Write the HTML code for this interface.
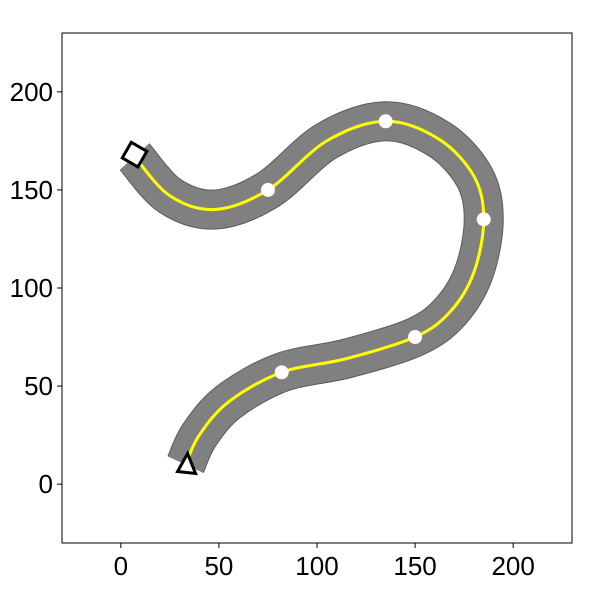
<!DOCTYPE html>
<html><head><meta charset="utf-8"><style>
body{margin:0;background:#fff;width:600px;height:600px;overflow:hidden}
text{font-family:"Liberation Sans",sans-serif;font-size:26px;fill:#000}
</style></head><body>
<svg id="c" width="600" height="600"></svg>
<script>
const pathX=[7,25,48,75,105,135,162,180,185,180,168,150,115,82,55,40,33];
const pathY=[167,147,140,150,175,185,176,157,135,108,88,75,64,57,42,25,10];
const waypointX=[75,135,185,150,82];
const waypointY=[150,185,135,75,57];
const startPt=[7,168];
const endPt=[33,10];
const xTicks=[0,50,100,150,200];
const yTicks=[0,50,100,150,200];
const L=62,R=572,T=33,B=543,xmin=-30,xmax=230,ymin=-30,ymax=230;
const sx=v=>L+(v-xmin)/(xmax-xmin)*(R-L);
const sy=v=>B-(v-ymin)/(ymax-ymin)*(B-T);
const NS="http://www.w3.org/2000/svg";
const svg=document.getElementById('c');
function mk(t,a){const e=document.createElementNS(NS,t);for(const k in a)e.setAttribute(k,a[k]);svg.appendChild(e);return e;}
const fr=mk('rect',{x:L,y:T,width:R-L,height:B-T,fill:'#fff',stroke:'#000','stroke-width':1});


xTicks.forEach(v=>{
 const l=mk('line',{x1:sx(v),x2:sx(v),y1:B,y2:B+5,stroke:'#000'});
 
 
 const t=mk('text',{x:sx(v),y:B+32,'text-anchor':'middle'});t.textContent=v;
 
 
});
yTicks.forEach(v=>{
 const l=mk('line',{x1:L-5,x2:L,y1:sy(v),y2:sy(v),stroke:'#000'});
 
 
 const t=mk('text',{x:L-9,y:sy(v)+9,'text-anchor':'end'});t.textContent=v;
 
 
});
const P=pathX.map((x,i)=>[sx(x),sy(pathY[i])]);
let d=`M${P[0][0]},${P[0][1]}`;
for(let i=0;i<P.length-1;i++){
 const p0=P[Math.max(i-1,0)],p1=P[i],p2=P[i+1],p3=P[Math.min(i+2,P.length-1)];
 d+=` C${p1[0]+(p2[0]-p0[0])/6},${p1[1]+(p2[1]-p0[1])/6} ${p2[0]-(p3[0]-p1[0])/6},${p2[1]-(p3[1]-p1[1])/6} ${p2[0]},${p2[1]}`;
}
const b1=mk('path',{d,fill:'none',stroke:'#5a5a5a','stroke-width':40});


const b2=mk('path',{d,fill:'none',stroke:'#808080','stroke-width':38});


const yl=mk('path',{d,fill:'none',stroke:'#ffff00','stroke-width':3});


waypointX.forEach((x,i)=>{
 const c=mk('circle',{cx:sx(x),cy:sy(waypointY[i]),r:7,fill:'#fff'});
 
 
});
const dx=sx(startPt[0]),dy=sy(startPt[1]);
const dm=mk('rect',{x:dx-9,y:dy-9,width:18,height:18,fill:'#fff',stroke:'#000','stroke-width':3,transform:`rotate(45 ${dx} ${dy}) rotate(-15 ${dx} ${dy})`});


const tx=sx(endPt[0]),ty=sy(endPt[1]);
const tr=mk('polygon',{points:`${tx-8},${ty+7} ${tx+10},${ty+9} ${tx+2},${ty-11}`,fill:'#fff',stroke:'#000','stroke-width':3});


</script>
</body></html>
